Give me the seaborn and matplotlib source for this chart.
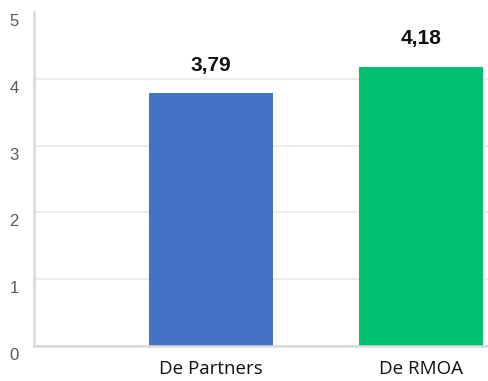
import matplotlib
matplotlib.use("Agg")
import matplotlib.pyplot as plt
import matplotlib.transforms as mtransforms
import seaborn as sns
import pandas as pd

categories = ["De Partners", "De RMOA"]
values = [3.79, 4.18]
value_labels = ["3,79", "4,18"]
bar_colors = ["#4472C4", "#00BF6F"]
y_ticks = [0, 1, 2, 3, 4, 5]

sns.set_theme(style="white")
plt.rcParams["font.family"] = ["Liberation Sans", "DejaVu Sans"]

df = pd.DataFrame({"cat": categories, "val": values})

fig = plt.figure(figsize=(4.89, 3.81), dpi=100)
ax = fig.add_axes([34 / 489, 35 / 381, 455 / 489, 334 / 381])

sns.barplot(data=df, x="cat", y="val", hue="cat", palette=bar_colors,
            width=0.59, legend=False, ax=ax, saturation=1, linewidth=0)

ax.set_ylim(0, 5)
ax.set_xlim(-0.843, 1.324)
ax.set_yticks(y_ticks)
ax.set_yticklabels([str(t) for t in y_ticks], color="#595959", fontsize=12)
ax.yaxis.grid(True, color="#EDEDED", linewidth=1.5)
ax.get_ygridlines()[-1].set_visible(False)
ax.set_axisbelow(True)
ax.tick_params(axis="both", length=0)
ax.tick_params(axis="y", pad=11)
ax.tick_params(axis="x", pad=10)
for lab in ax.get_xticklabels():
    lab.set_fontsize(13.5)
    lab.set_color("#111111")
    lab.set_family(["Open Sans", "DejaVu Sans"])
shift = mtransforms.ScaledTranslation(0, -8 / 100, fig.dpi_scale_trans)
for lab in ax.get_yticklabels():
    lab.set_transform(lab.get_transform() + shift)

ax.set_xlabel("")
ax.set_ylabel("")
for side in ["top", "right"]:
    ax.spines[side].set_visible(False)
for side in ["left", "bottom"]:
    ax.spines[side].set_color("#D9D9D9")
    ax.spines[side].set_linewidth(1.8)

for i, (v, txt) in enumerate(zip(values, value_labels)):
    ax.annotate(txt, (i, v), xytext=(0, 20), textcoords="offset points",
                ha="center", va="center", fontsize=15, fontweight="bold",
                color="#111111")

fig.savefig("out.png", dpi=100)
